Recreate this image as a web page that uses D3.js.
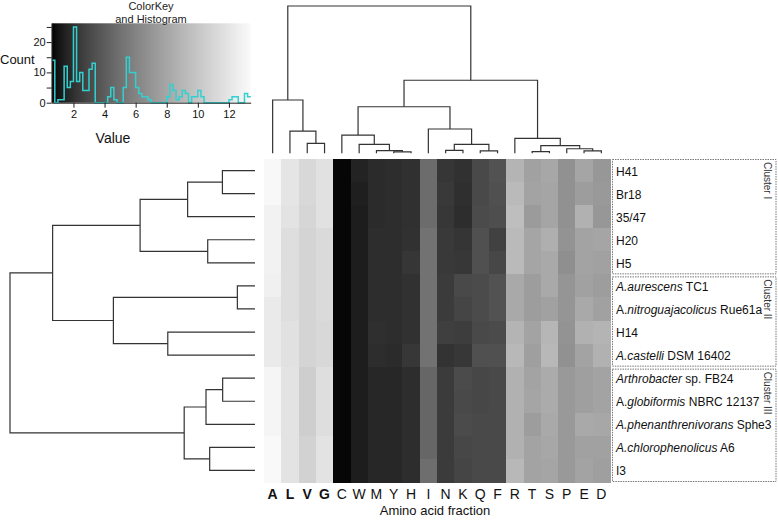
<!DOCTYPE html>
<html>
<head>
<meta charset="utf-8">
<script src="https://cdn.jsdelivr.net/npm/d3@7"></script>
<style>
  body { margin: 0; background: #fff; }
  svg { display: block; font-family: "Liberation Sans", Arial, sans-serif; }
</style>
</head>
<body>
<svg id="chart" width="778" height="520"></svg>
<script>
// ---------------- data ----------------
const aminoAcids = ["A","L","V","G","C","W","M","Y","H","I","N","K","Q","F","R","T","S","P","E","D"];
const boldAcids = ["A","L","V","G"];

// *...* marks the italic part of a label
const strainLabels = [
  "H41", "Br18", "35/47", "H20", "H5",
  "*A.aurescens* TC1", "A.*nitroguajacolicus* Rue61a", "H14", "*A.castelli* DSM 16402",
  "*Arthrobacter* sp. FB24", "A.*globiformis* NBRC 12137", "*A.phenanthrenivorans* Sphe3",
  "*A.chlorophenolicus* A6", "I3"
];
const strains = strainLabels.map(s => s.replace(/\*/g, ""));

// amino acid fraction (%), one row per strain, columns in aminoAcids order
const fractions = [
  [13.26,11.96,11.15,11.69,0.68,1.52,1.82,1.90,2.00,4.79,2.26,2.06,3.10,3.48,8.83,7.73,8.10,6.79,7.97,7.13],
  [13.26,11.96,11.15,11.69,0.68,1.38,1.82,1.90,2.00,4.79,2.39,1.98,3.10,3.38,9.21,7.85,7.97,6.79,7.49,7.25],
  [12.86,11.83,11.02,11.69,0.68,1.31,1.82,1.90,2.00,4.79,2.31,1.90,3.19,3.29,9.47,7.37,7.97,6.79,8.70,7.13],
  [12.86,11.55,10.89,11.28,0.68,1.31,1.90,1.90,2.06,5.11,2.39,2.20,3.38,2.74,9.21,7.97,8.58,6.90,7.85,7.97],
  [12.86,11.55,10.89,11.28,0.68,1.31,1.90,1.90,2.26,5.11,2.39,2.31,3.38,3.01,9.21,7.97,8.22,6.67,7.85,7.73],
  [12.70,11.55,10.89,11.28,0.68,1.31,1.90,1.90,2.06,5.11,2.48,3.10,3.19,3.48,8.22,7.49,8.22,7.02,7.73,7.49],
  [12.33,11.55,10.89,11.28,0.68,1.31,1.90,1.90,2.06,5.11,2.48,2.92,3.19,3.48,8.22,7.49,7.73,7.02,8.22,7.73],
  [12.33,11.69,10.89,11.15,0.68,1.31,1.98,1.90,2.06,5.11,2.65,2.56,3.10,3.19,8.83,7.85,8.96,6.90,8.70,8.83],
  [12.33,11.69,10.89,11.15,0.68,1.31,1.90,1.82,2.31,5.11,2.14,2.31,3.38,3.38,9.09,7.61,9.09,6.79,7.85,8.70],
  [13.06,11.83,10.50,11.55,0.68,1.31,1.67,1.67,1.90,4.47,2.48,3.19,3.01,3.10,8.70,7.85,8.34,7.25,7.61,7.85],
  [13.06,11.83,10.50,11.55,0.68,1.31,1.67,1.67,1.90,4.47,2.48,3.10,3.01,3.10,8.70,7.97,8.34,7.25,7.61,7.85],
  [13.06,11.83,10.50,11.55,0.68,1.31,1.67,1.67,1.90,4.47,2.48,3.19,3.10,3.10,8.70,7.49,8.22,7.25,8.22,8.10],
  [13.35,11.83,10.76,11.83,0.68,1.31,1.67,1.67,1.90,4.47,2.48,3.01,3.10,3.10,8.70,7.85,8.10,7.25,7.73,7.73],
  [13.35,11.83,10.76,11.83,0.68,1.31,1.67,1.67,1.90,4.90,2.48,2.92,3.10,3.10,9.09,7.85,7.97,7.25,7.85,7.61]
];

const clusters = [
  { name: "Cluster I",   first: "H41",                   last: "H5" },
  { name: "Cluster II",  first: "A.aurescens TC1",       last: "A.castelli DSM 16402" },
  { name: "Cluster III", first: "Arthrobacter sp. FB24", last: "I3" }
];

// dendrograms: leaves are names, h = merge height (relative)
const rowTree = {h: 1.0, c: [
  {h: 0.826, c: [
    {h: 0.469, c: [
      {h: 0.275, c: [{h: 0.133, c: ["H41", "Br18"]}, "35/47"]},
      {h: 0.193, c: ["H20", "H5"]}
    ]},
    {h: 0.578, c: [
      {h: 0.072, c: ["A.aurescens TC1", "A.nitroguajacolicus Rue61a"]},
      {h: 0.356, c: ["H14", "A.castelli DSM 16402"]}
    ]}
  ]},
  {h: 0.289, c: [
    {h: 0.200, c: [{h: 0.132, c: ["Arthrobacter sp. FB24", "A.globiformis NBRC 12137"]}, "A.phenanthrenivorans Sphe3"]},
    {h: 0.185, c: ["A.chlorophenolicus A6", "I3"]}
  ]}
]};

const colTree = {h: 1.0, c: [
  {h: 0.362, c: ["A", {h: 0.151, c: ["L", {h: 0.068, c: ["V", "G"]}]}]},
  {h: 0.496, c: [
    {h: 0.316, c: [
      {h: 0.124, c: ["C", {h: 0.061, c: ["W", {h: 0.018, c: ["M", {h: 0.010, c: ["Y", "H"]}]}]}]},
      {h: 0.165, c: ["I", {h: 0.061, c: [{h: 0.020, c: ["N", "K"]}, {h: 0.016, c: ["Q", "F"]}]}]}
    ]},
    {h: 0.102, c: ["R", {h: 0.052, c: [{h: 0.011, c: ["T", "S"]}, {h: 0.031, c: ["P", {h: 0.016, c: ["E", "D"]}]}]}]}
  ]}
]};

// color key histogram (bins of 0.2 starting at 0.6)
const histStart = 0.6;
const histBin = 0.2;
const histCounts = [
  14,0,1,1,12,5,7,25,7,10,4,4,11,13,0,0,0,0,2,5,
  1,0,0,5,15,10,10,5,3,2,2,1,0,0,0,0,0,2,6,4,
  1,2,4,3,0,2,2,4,2,0,0,0,0,0,0,0,0,1,2,2,
  0,0,3,2
];
const keyDomain = [0.6, 13.4];
const keyTicksX = [2, 4, 6, 8, 10, 12];
const keyTicksY = [0, 5, 10, 15, 20, 25];
const keyLabelsY = [0, 10, 20];

// ---------------- scales ----------------
const svg = d3.select("#chart");

const toUnit = d3.scaleLinear().domain(keyDomain).range([0, 1]).clamp(true);
const grayLevel = d3.scalePow().exponent(0.75).domain([0, 1]).range([0, 250]);
function color(v) {
    const g = Math.round(grayLevel(toUnit(v)));
    return d3.rgb(g, g, g).formatHex();
}

const x = d3.scaleBand().domain(aminoAcids).range([264, 610]);
const y = d3.scaleBand().domain(strains).range([159, 482]);

// ---------------- dendrograms ----------------
function drawDendrogram(tree, leafScale, heightScale, horizontal) {
    const root = d3.hierarchy(tree, d => typeof d === "string" ? null : d.c);
    root.eachAfter(n => {
        n.hgt = n.children ? n.data.h : 0;
        n.pos = n.children
            ? d3.mean(n.children, c => c.pos)
            : leafScale(n.data) + leafScale.bandwidth() / 2;
    });
    const pt = (p, h) => horizontal ? [heightScale(h), p] : [p, heightScale(h)];
    const links = [];
    root.each(n => {
        if (!n.children) return;
        const [a, b] = n.children;
        links.push([pt(a.pos, a.hgt), pt(a.pos, n.hgt), pt(b.pos, n.hgt), pt(b.pos, b.hgt)]);
    });
    svg.append("g")
        .selectAll("path")
        .data(links)
        .join("path")
        .attr("d", d3.line())
        .attr("fill", "none")
        .attr("stroke", "#333")
        .attr("stroke-width", 1.2);
}

drawDendrogram(rowTree, y, d3.scaleLinear().domain([0, 1]).range([255, 10]), true);
drawDendrogram(colTree, x, d3.scaleLinear().domain([0, 1]).range([153.3, 6]), false);

// ---------------- heatmap ----------------
const cells = fractions.flatMap((row, i) =>
    row.map((v, j) => ({ strain: strains[i], acid: aminoAcids[j], value: v })));

svg.append("g")
    .selectAll("rect")
    .data(cells)
    .join("rect")
    .attr("x", d => x(d.acid))
    .attr("y", d => y(d.strain))
    .attr("width", x.bandwidth() + 0.5)
    .attr("height", y.bandwidth() + 0.5)
    .attr("fill", d => color(d.value))
    .attr("shape-rendering", "crispEdges");

// column labels
svg.append("g")
    .selectAll("text")
    .data(aminoAcids)
    .join("text")
    .attr("x", d => x(d) + x.bandwidth() / 2)
    .attr("y", 499)
    .attr("text-anchor", "middle")
    .attr("font-size", 14)
    .attr("font-weight", d => boldAcids.includes(d) ? "bold" : "normal")
    .attr("fill", "#111")
    .text(d => d);

svg.append("text")
    .attr("x", 435)
    .attr("y", 515)
    .attr("text-anchor", "middle")
    .attr("font-size", 13)
    .attr("fill", "#111")
    .text("Amino acid fraction");

// row labels with italic parts
const rowLabel = svg.append("g")
    .selectAll("text")
    .data(strainLabels)
    .join("text")
    .attr("x", 616)
    .attr("y", (d, i) => y(strains[i]) + y.bandwidth() / 2 + 1)
    .attr("dominant-baseline", "central")
    .attr("font-size", 12)
    .attr("fill", "#111");

rowLabel.each(function(d) {
    const parts = d.split("*");
    const t = d3.select(this);
    parts.forEach((p, k) => {
        if (p === "") return;
        t.append("tspan")
            .attr("font-style", k % 2 === 1 ? "italic" : "normal")
            .text(p);
    });
});

// cluster boxes
const boxG = svg.append("g");
clusters.forEach((c, k) => {
    const top = y(c.first) + (k === 0 ? 0 : 2);
    const bottom = y(c.last) + y.bandwidth() - 1;
    boxG.append("rect")
        .attr("x", 612.5)
        .attr("y", top + 0.5)
        .attr("width", 163.5)
        .attr("height", bottom - top)
        .attr("fill", "none")
        .attr("stroke", "#777")
        .attr("stroke-width", 1)
        .attr("stroke-dasharray", "1.5,1");
    boxG.append("text")
        .attr("transform", `translate(767, ${top + 3}) rotate(90)`)
        .attr("dominant-baseline", "central")
        .attr("font-size", 10)
        .attr("fill", "#333")
        .text(c.name);
});

// ---------------- color key ----------------
const kx = d3.scaleLinear().domain(keyDomain).range([51.7, 250.7]);
const ky = d3.scaleLinear().domain([0, 26.2]).range([102.7, 23.3]);

const grad = svg.append("defs").append("linearGradient")
    .attr("id", "keygrad");
grad.selectAll("stop")
    .data(d3.range(0, 1.0001, 0.025))
    .join("stop")
    .attr("offset", d => d)
    .attr("stop-color", d => color(keyDomain[0] + d * (keyDomain[1] - keyDomain[0])));

svg.append("rect")
    .attr("x", kx(keyDomain[0]))
    .attr("y", ky(26.2))
    .attr("width", kx(keyDomain[1]) - kx(keyDomain[0]))
    .attr("height", ky(0) - ky(26.2))
    .attr("fill", "url(#keygrad)");

const histPoints = histCounts.map((c, i) => [histStart + i * histBin, c]);
histPoints.push([histStart + histCounts.length * histBin, histCounts[histCounts.length - 1]]);

svg.append("path")
    .datum(histPoints)
    .attr("d", d3.line().x(d => kx(d[0])).y(d => ky(d[1])).curve(d3.curveStepAfter))
    .attr("fill", "none")
    .attr("stroke", "#33d0d0")
    .attr("stroke-width", 1.5);

const axY = svg.append("g")
    .attr("transform", `translate(${kx(keyDomain[0])},0)`)
    .call(d3.axisLeft(ky).tickValues(keyTicksY).tickSize(5).tickPadding(1).tickSizeOuter(0)
        .tickFormat(d => keyLabelsY.includes(d) ? d : ""));
const axX = svg.append("g")
    .attr("transform", `translate(0,${ky(0)})`)
    .call(d3.axisBottom(kx).tickValues(keyTicksX).tickSize(5).tickSizeOuter(0));

[axY, axX].forEach(a => {
    a.selectAll("path, line").attr("stroke", "#222");
    a.selectAll("text").attr("font-size", 11).attr("fill", "#111")
        .attr("font-family", "'Liberation Sans', Arial, sans-serif");
});

svg.append("text")
    .attr("x", 151).attr("y", 9.5)
    .attr("text-anchor", "middle")
    .attr("font-size", 11).attr("fill", "#222")
    .text("ColorKey");
svg.append("text")
    .attr("x", 151).attr("y", 22.5)
    .attr("text-anchor", "middle")
    .attr("font-size", 11).attr("fill", "#222")
    .text("and Histogram");
svg.append("text")
    .attr("x", 0).attr("y", 59.5)
    .attr("dominant-baseline", "central")
    .attr("font-size", 13).attr("fill", "#111")
    .text("Count");
svg.append("text")
    .attr("x", 113).attr("y", 138)
    .attr("text-anchor", "middle")
    .attr("dominant-baseline", "central")
    .attr("font-size", 14).attr("fill", "#111")
    .text("Value");
</script>
</body>
</html>
